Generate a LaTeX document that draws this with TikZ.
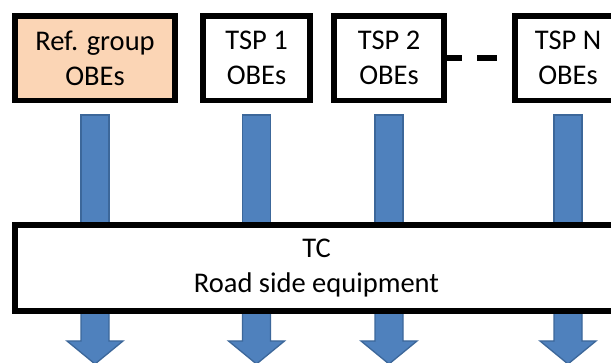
\documentclass[tikz,border=0pt]{standalone}
\usepackage{fontspec}
\setmainfont{Carlito}
\definecolor{peach}{HTML}{FBD5B5}
\definecolor{arrfill}{HTML}{4F81BD}
\definecolor{arrline}{HTML}{3C679A}
\tikzset{
  obebox/.style={draw=black, line width=5.5pt, fill=white, outer sep=0pt, inner sep=0pt,
    minimum height=84.5pt, align=center, font=\fontsize{28.5}{35}\selectfont},
  bigbox/.style={draw=black, line width=5.5pt, fill=white, outer sep=0pt, inner sep=0pt,
    minimum height=86pt, minimum width=603pt, align=center, font=\fontsize{28.5}{35}\selectfont},
  arr/.style={fill=arrfill, draw=arrline, line width=1.3pt, line join=miter},
  dashline/.style={draw=black, line width=5.5pt, dash pattern=on 18pt off 15pt on 20pt off 40pt}
}
\begin{document}
\begin{tikzpicture}[x=1pt, y=-1pt]
\useasboundingbox (0,0) rectangle (611,363);
\clip (0,0) rectangle (611,363);
\fill[white] (0,0) rectangle (611,363);
\node[obebox, fill=peach, minimum width=160pt] (b1) at (95,58.25) {Ref. group\\OBEs};
\node[obebox, minimum width=107pt] (b2) at (256.5,58.25) {TSP 1\\OBEs};
\node[obebox, minimum width=110pt] (b3) at (389,58.25) {TSP 2\\OBEs};
\node[obebox, minimum width=106pt] (bN) at (568,58.25) {TSP N\\OBEs};
\draw[dashline] (b3.east) -- (bN.west);
\foreach \n in {b1,b2,b3,bN}{
  \begin{scope}[shift={(\n.center |- 0,0)}]
    \draw[arr] (-14,115) rectangle (14,226);
    \draw[arr] (-14,309) -- (14,309) -- (14,341) -- (28,341) -- (0,364)
      -- (-28,341) -- (-14,341) -- cycle;
  \end{scope}
}
\node[bigbox] (tc) at (316.5,268) {TC\\Road side equipment};
\end{tikzpicture}
\end{document}
